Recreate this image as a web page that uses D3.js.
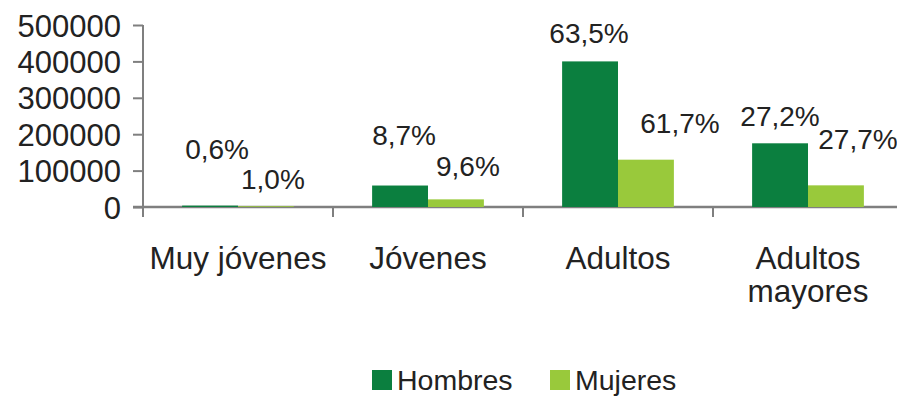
<!DOCTYPE html>
<html>
<head>
<meta charset="utf-8">
<script src="https://cdn.jsdelivr.net/npm/d3@7"></script>
<style>
  html, body { margin: 0; padding: 0; background: #fff; }
  svg { display: block; font-family: "Liberation Sans", Arial, sans-serif; }
</style>
</head>
<body>
<svg id="chart" width="897" height="397"></svg>
<script>
// Población por grupo de edad y sexo
const categories = ["Muy jóvenes", "Jóvenes", "Adultos", "Adultos mayores"];
const series = ["Hombres", "Mujeres"];
const hombres = [3800, 59000, 400000, 175000];
const mujeres = [2100, 21000, 130000, 59500];
const hombresPct = ["0,6%", "8,7%", "63,5%", "27,2%"];
const mujeresPct = ["1,0%", "9,6%", "61,7%", "27,7%"];
const yTicks = [0, 100000, 200000, 300000, 400000, 500000];

const colors = { Hombres: "#0b7f3f", Mujeres: "#99c93b" };

// Hand-placed offsets of each percentage label from its bar's top centre
const labelNudge = {
  Hombres: [[7, -47], [4, -41], [-1, -18], [0, -17]],
  Mujeres: [[7, -17], [12, -23], [34, -27], [22, -36]]
};

const svg = d3.select("#chart");
const plotLeft = 143, plotRight = 903, plotTop = 25, plotBase = 207;

const x0 = d3.scaleBand().domain(categories).range([plotLeft, plotRight]).padding(0);
const x1 = d3.scaleBand().domain(series).range([0, x0.bandwidth()])
  .paddingInner(0).paddingOuter(0.7);
const y = d3.scaleLinear().domain([0, 500000]).range([plotBase, plotTop]);

const rows = categories.map((c, i) => ({
  cat: c,
  vals: [
    { s: "Hombres", v: hombres[i], pct: hombresPct[i], nudge: labelNudge.Hombres[i] },
    { s: "Mujeres", v: mujeres[i], pct: mujeresPct[i], nudge: labelNudge.Mujeres[i] }
  ]
}));

// Axes
const axisColor = "#7f7f7f";
const yAxis = svg.append("g")
  .attr("transform", `translate(${plotLeft},0)`)
  .call(d3.axisLeft(y).tickValues(yTicks).tickSize(10).tickPadding(12).tickFormat(d3.format("d")));
yAxis.select(".domain").remove();
yAxis.selectAll(".tick line").attr("stroke", axisColor).attr("stroke-width", 2);
yAxis.selectAll(".tick text")
  .attr("fill", "#222").attr("font-size", 31).attr("font-family", "Liberation Sans, Arial, sans-serif")
  .attr("dy", "0.36em");
svg.append("line")
  .attr("x1", plotLeft).attr("x2", plotLeft).attr("y1", plotTop).attr("y2", plotBase + 10)
  .attr("stroke", axisColor).attr("stroke-width", 2);

svg.append("line")
  .attr("x1", plotLeft - 10).attr("x2", plotRight).attr("y1", plotBase).attr("y2", plotBase)
  .attr("stroke", axisColor).attr("stroke-width", 2.5);

const bounds = categories.map(c => x0(c)).concat([plotRight]);
svg.append("g").selectAll("line").data(bounds).join("line")
  .attr("x1", d => d).attr("x2", d => d)
  .attr("y1", plotBase).attr("y2", plotBase + 10)
  .attr("stroke", axisColor).attr("stroke-width", 2);

// Bars, drawn over the baseline
const groups = svg.append("g").selectAll("g").data(rows).join("g")
  .attr("transform", d => `translate(${x0(d.cat)},0)`);

groups.selectAll("rect").data(d => d.vals).join("rect")
  .attr("x", d => x1(d.s))
  .attr("width", x1.bandwidth())
  .attr("y", d => y(d.v))
  .attr("height", d => plotBase - y(d.v))
  .attr("fill", d => colors[d.s]);

// Category labels, wrapped when wider than the band
const catText = svg.append("g").selectAll("text").data(categories).join("text")
  .attr("x", d => x0(d) + x0.bandwidth() / 2)
  .attr("y", 269)
  .attr("text-anchor", "middle")
  .attr("font-size", 31.5)
  .attr("fill", "#222")
  .text(d => d);

catText.each(function(d) {
  const t = d3.select(this);
  if (this.getComputedTextLength() > x0.bandwidth()) {
    const words = d.split(" ");
    t.text(null);
    words.forEach((w, i) => {
      t.append("tspan")
        .attr("x", x0(d) + x0.bandwidth() / 2)
        .attr("dy", i === 0 ? 0 : 33)
        .text(w);
    });
  }
});

// Percentage labels
groups.selectAll("text.pct").data(d => d.vals).join("text")
  .attr("class", "pct")
  .attr("x", d => x1(d.s) + x1.bandwidth() / 2 + d.nudge[0])
  .attr("y", d => y(d.v) + d.nudge[1])
  .attr("text-anchor", "middle")
  .attr("font-size", 28)
  .attr("fill", "#222")
  .text(d => d.pct);

// Legend
const legend = svg.append("g").selectAll("g").data(series).join("g")
  .attr("transform", (d, i) => `translate(${372 + i * 178},370)`);
legend.append("rect").attr("width", 20).attr("height", 20).attr("fill", d => colors[d]);
legend.append("text").attr("x", 25).attr("y", 20)
  .attr("font-size", 28.5).attr("fill", "#222").text(d => d);
</script>
</body>
</html>
